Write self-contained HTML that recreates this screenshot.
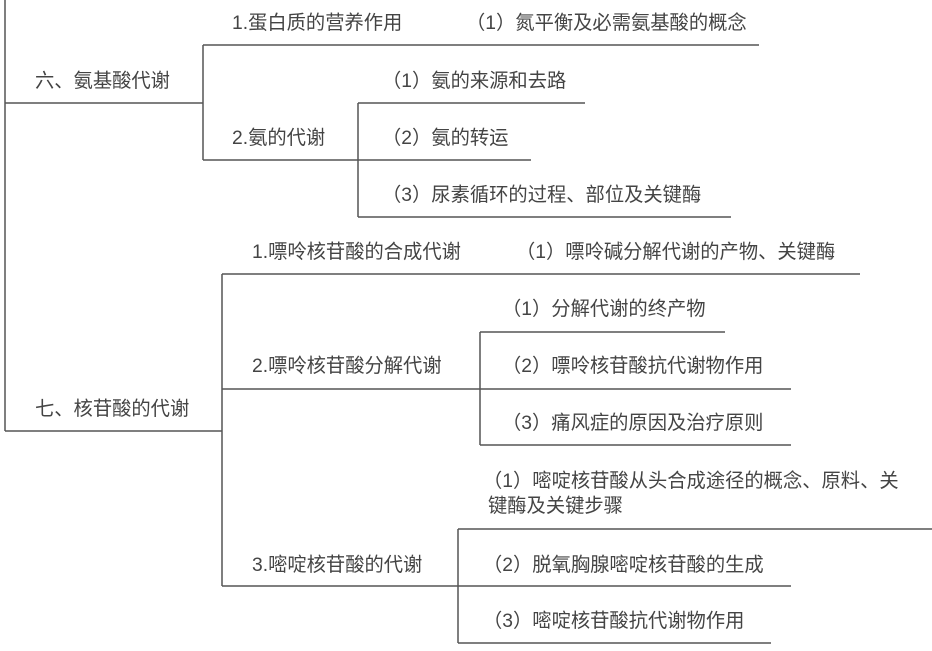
<!DOCTYPE html>
<html><head><meta charset="utf-8"><style>
body{margin:0;width:932px;height:651px;background:#fff;position:relative;overflow:hidden;font-family:"Liberation Sans","Noto Sans CJK SC",sans-serif;}
.t{position:absolute;font-size:19.3px;line-height:22px;color:#444;white-space:nowrap;}
svg{position:absolute;left:0;top:0;}
</style></head><body>
<svg width="932" height="651" stroke="#555" stroke-width="1.5" fill="none">
<path d="M5 0V431M5 103H203M203 45V160M203 45H759M203 160H358M358 103V217M358 103H585M358 160H531M358 217H731"/>
<path d="M5 431H222M222 274V586M222 274H860M222 389H480M222 586H458M480 332V445M480 332H725M480 389H791M480 445H791M458 529V643M458 529H932M458 586H791M458 643H771"/>
</svg>
<div class="t" style="left:232px;top:13px">1.蛋白质的营养作用</div>
<div class="t" style="left:466px;top:13px">（1）氮平衡及必需氨基酸的概念</div>
<div class="t" style="left:35px;top:71px">六、氨基酸代谢</div>
<div class="t" style="left:382px;top:71px">（1）氨的来源和去路</div>
<div class="t" style="left:232px;top:128px">2.氨的代谢</div>
<div class="t" style="left:382px;top:128px">（2）氨的转运</div>
<div class="t" style="left:382px;top:185px">（3）尿素循环的过程、部位及关键酶</div>
<div class="t" style="left:252px;top:242px">1.嘌呤核苷酸的合成代谢</div>
<div class="t" style="left:516px;top:242px">（1）嘌呤碱分解代谢的产物、关键酶</div>
<div class="t" style="left:502px;top:299px">（1）分解代谢的终产物</div>
<div class="t" style="left:252px;top:356px">2.嘌呤核苷酸分解代谢</div>
<div class="t" style="left:502px;top:356px">（2）嘌呤核苷酸抗代谢物作用</div>
<div class="t" style="left:35px;top:399px">七、核苷酸的代谢</div>
<div class="t" style="left:502px;top:413px">（3）痛风症的原因及治疗原则</div>
<div class="t" style="left:483px;top:471px">（1）嘧啶核苷酸从头合成途径的概念、原料、关</div>
<div class="t" style="left:488px;top:496px">键酶及关键步骤</div>
<div class="t" style="left:252px;top:555px">3.嘧啶核苷酸的代谢</div>
<div class="t" style="left:483px;top:555px">（2）脱氧胸腺嘧啶核苷酸的生成</div>
<div class="t" style="left:483px;top:611px">（3）嘧啶核苷酸抗代谢物作用</div>
</body></html>
